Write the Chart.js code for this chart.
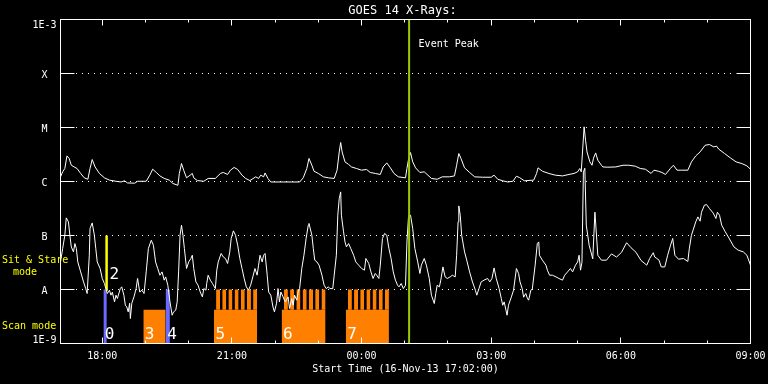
<!DOCTYPE html>
<html><head><meta charset="utf-8">
<script src="https://cdn.jsdelivr.net/npm/chart.js@4.4.1/dist/chart.umd.min.js"></script>
<style>html,body{margin:0;padding:0;background:#000;overflow:hidden}</style>
</head><body>
<canvas id="c" width="768" height="384"></canvas>
<script>
// ---------- data ----------
const startTime = '17:02';
const endTime = '09:00';
const titleText = 'GOES 14 X-Rays:';
const xAxisTitle = 'Start Time (16-Nov-13 17:02:00)';

const yTickValues = [1e-9, 1e-8, 1e-7, 1e-6, 1e-5, 1e-4, 1e-3];
const yTickLabels = ['1E-9', 'A', 'B', 'C', 'M', 'X', '1E-3'];
const xTickTimes = ['18:00','19:00','20:00','21:00','22:00','23:00','00:00','01:00','02:00','03:00','04:00','05:00','06:00','07:00','08:00','09:00'];
const xTickLabels = ['18:00','','','21:00','','','00:00','','','03:00','','','06:00','','','09:00'];

// long channel (upper curve)
const longTimes = ['17:02','17:05','17:08','17:11','17:14','17:17','17:21','17:25','17:30','17:35','17:40','17:43','17:46','17:50','17:56',
 '18:03','18:10','18:19','18:26','18:31','18:35','18:45','18:49','19:01','19:06','19:10','19:15','19:20','19:26','19:33','19:38','19:45','19:47','19:50','19:53','19:57',
 '20:02','20:05','20:07','20:12','20:21','20:27','20:37','20:44','20:48','20:54','20:58','21:03','21:08','21:14','21:19','21:25','21:33','21:37','21:40','21:44','21:46','21:50','21:54',
 '22:12','22:23','22:34','22:39','22:44','22:47','22:51','22:54','23:00','23:07','23:14','23:22','23:26','23:29','23:31','23:33','23:37','23:42','23:46','23:53',
 '00:00','00:07','00:12','00:19','00:26','00:30','00:35','00:40','00:45','00:51','01:01','01:03','01:05','01:08','01:11','01:15','01:21','01:27','01:31','01:37','01:45','01:52',
 '02:02','02:09','02:12','02:15','02:18','02:23','02:30','02:37','02:48','03:00','03:04','03:09','03:16','03:23','03:30','03:35','03:39','03:46','03:59',
 '04:03','04:05','04:11','04:20','04:29','04:39','04:48','04:55','05:00','05:03','05:05','05:09','05:11','05:13','05:17','05:20','05:22','05:25','05:28','05:33','05:35','05:42','05:53',
 '06:03','06:11','06:20','06:27','06:34','06:42','06:46','06:52','06:57','07:02','07:09','07:13','07:18','07:24','07:33','07:38','07:44','07:50','07:57',
 '08:03','08:09','08:13','08:16','08:24','08:32','08:40','08:48','08:55','09:00'];
const longFlux = [1.22e-6,1.51e-6,1.74e-6,2.98e-6,2.67e-6,2.0e-6,1.86e-6,1.74e-6,1.41e-6,1.17e-6,1.10e-6,1.74e-6,2.55e-6,1.86e-6,1.41e-6,
 1.17e-6,1.06e-6,1.01e-6,9.8e-7,1.03e-6,9.4e-7,9.3e-7,1.01e-6,1.01e-6,1.31e-6,1.69e-6,1.47e-6,1.27e-6,1.14e-6,1.06e-6,9.2e-7,8.5e-7,1.41e-6,2.15e-6,1.62e-6,1.17e-6,
 1.31e-6,1.41e-6,1.17e-6,1.04e-6,1.01e-6,1.14e-6,1.14e-6,1.41e-6,1.47e-6,1.35e-6,1.62e-6,1.82e-6,1.67e-6,1.31e-6,1.14e-6,1.04e-6,1.22e-6,1.14e-6,1.31e-6,1.22e-6,1.44e-6,1.14e-6,9.8e-7,
 9.8e-7,9.8e-7,9.8e-7,1.17e-6,1.74e-6,2.67e-6,2.0e-6,1.55e-6,1.41e-6,1.22e-6,1.17e-6,1.14e-6,1.62e-6,3.53e-6,5.27e-6,3.53e-6,2.31e-6,2.07e-6,1.86e-6,1.74e-6,
 1.62e-6,1.67e-6,1.47e-6,1.41e-6,1.35e-6,1.86e-6,2.21e-6,1.79e-6,1.41e-6,1.22e-6,1.17e-6,1.74e-6,2.48e-6,3.44e-6,2.31e-6,1.79e-6,1.47e-6,1.51e-6,1.35e-6,1.14e-6,1.10e-6,1.22e-6,
 1.22e-6,1.27e-6,2.0e-6,3.30e-6,2.67e-6,1.79e-6,1.47e-6,1.22e-6,1.20e-6,1.20e-6,1.31e-6,1.10e-6,1.03e-6,9.8e-7,1.01e-6,1.25e-6,1.19e-6,1.03e-6,1.06e-6,
 1.41e-6,1.79e-6,1.55e-6,1.41e-6,1.31e-6,1.27e-6,1.35e-6,1.41e-6,1.51e-6,1.74e-6,1.51e-6,1.03e-5,5.8e-6,3.53e-6,2.31e-6,2.0e-6,2.70e-6,3.38e-6,2.48e-6,2.0e-6,1.86e-6,1.84e-6,1.86e-6,
 2.0e-6,2.0e-6,1.92e-6,1.74e-6,1.69e-6,1.41e-6,1.62e-6,1.55e-6,1.47e-6,1.35e-6,1.76e-6,2.0e-6,1.62e-6,1.62e-6,1.62e-6,2.31e-6,2.98e-6,3.53e-6,4.69e-6,
 4.84e-6,4.38e-6,4.51e-6,3.96e-6,3.30e-6,2.74e-6,2.31e-6,2.15e-6,1.95e-6,1.69e-6];

// short channel (lower curve)
const shortTimes = ['17:02','17:05','17:08','17:10','17:13','17:15','17:17','17:20','17:22','17:24','17:26','17:30','17:34','17:37','17:39','17:42','17:43','17:46','17:49','17:51','17:53','17:57',
 '18:00','18:03','18:05','18:07','18:10','18:12','18:14','18:17','18:19','18:21','18:25','18:27','18:30','18:32','18:34','18:36','18:38','18:39','18:41','18:44','18:47','18:49','18:52','18:55','18:58',
 '19:01','19:04','19:08','19:11','19:14','19:17','19:20','19:23','19:26','19:28','19:31','19:34','19:37','19:39','19:42','19:44','19:46','19:48','19:50','19:52','19:54','19:57',
 '20:00','20:03','20:05','20:07','20:10','20:13','20:16','20:19','20:21','20:24','20:25','20:27','20:30','20:33','20:37','20:39','20:41','20:45','20:48','20:51','20:54','20:57','20:59',
 '21:02','21:05','21:08','21:11','21:14','21:17','21:20','21:23','21:26','21:29','21:32','21:35','21:37','21:39','21:42','21:44','21:46','21:49','21:51','21:54','21:57','21:59',
 '22:02','22:04','22:06','22:08','22:11','22:14','22:18','22:20','22:23','22:25','22:27','22:30','22:32','22:34','22:37','22:40','22:43','22:46','22:47','22:51','22:53','22:55','22:58',
 '23:01','23:05','23:08','23:11','23:14','23:16','23:20','23:22','23:25','23:27','23:29','23:31','23:32','23:35','23:37','23:39','23:42','23:45','23:49','23:52','23:56',
 '00:00','00:04','00:06','00:10','00:13','00:16','00:19','00:21','00:24','00:26','00:29','00:32','00:35','00:38','00:41','00:44','00:47','00:50','00:52','00:55','00:58',
 '01:01','01:03','01:05','01:06','01:08','01:11','01:14','01:18','01:21','01:23','01:27','01:30','01:34','01:37','01:41','01:43','01:45','01:48','01:50','01:53','01:56','01:59',
 '02:03','02:06','02:10','02:12','02:14','02:15','02:17','02:19','02:23','02:26','02:30','02:34','02:38','02:40','02:43','02:46','02:50','02:55','02:58',
 '03:01','03:04','03:07','03:11','03:14','03:16','03:18','03:22','03:24','03:28','03:31','03:35','03:38','03:40','03:43','03:45','03:48','03:50','03:52','03:55','03:57',
 '04:01','04:04','04:06','04:07','04:11','04:16','04:18','04:21','04:25','04:30','04:34','04:39','04:42','04:46','04:50','04:53','04:57',
 '05:00','05:02','05:04','05:06','05:08','05:10','05:12','05:16','05:21','05:24','05:28','05:33','05:40','05:47','05:54',
 '06:01','06:08','06:14','06:21','06:28','06:36','06:40','06:45','06:47','06:50','06:53','06:56',
 '07:01','07:05','07:09','07:12','07:15','07:20','07:27','07:33','07:35','07:38','07:44','07:47','07:50','07:52','07:56','07:59',
 '08:03','08:08','08:12','08:14','08:17','08:20','08:25','08:30','08:37','08:43','08:50','08:55','09:00'];
const shortFlux = [3.24e-8,5.74e-8,1.01e-7,2.12e-7,1.79e-7,1.01e-7,6.15e-8,4.97e-8,7.10e-8,5.74e-8,3.24e-8,2.12e-8,1.38e-8,1.04e-8,8.43e-9,4.31e-8,1.35e-7,1.71e-7,1.01e-7,5.74e-8,3.24e-8,2.45e-8,
 1.60e-8,1.29e-8,1.04e-8,8.43e-9,9.7e-9,7.85e-9,8.9e-9,5.9e-9,7.85e-9,6.81e-9,1.04e-8,1.12e-8,7.85e-9,5.11e-9,4.76e-9,3.85e-9,5.57e-9,2.9e-9,5.57e-9,7.3e-9,1.04e-8,1.60e-8,9.0e-9,9.7e-9,8.43e-9,
 2.12e-8,5.74e-8,8.17e-8,6.61e-8,3.24e-8,2.45e-8,1.84e-8,2.12e-8,1.49e-8,1.71e-8,1.20e-8,5.9e-9,3.34e-9,3.85e-9,4.14e-9,5.9e-9,2.12e-8,1.01e-7,1.55e-7,1.01e-7,5.74e-8,2.45e-8,
 3.24e-8,3.75e-8,4.31e-8,2.45e-8,1.38e-8,1.20e-8,9.0e-9,7.3e-9,1.04e-8,9.7e-9,1.29e-8,1.84e-8,1.49e-8,1.29e-8,1.04e-8,2.28e-8,3.24e-8,4.64e-8,4.01e-8,3.75e-8,3.03e-8,4.97e-8,8.8e-8,
 1.22e-7,1.01e-7,6.61e-8,3.75e-8,2.45e-8,1.60e-8,1.12e-8,9.7e-9,1.20e-8,1.71e-8,2.45e-8,1.84e-8,2.82e-8,4.31e-8,3.24e-8,4.31e-8,4.64e-8,1.84e-8,9.0e-9,7.85e-9,4.76e-9,3.85e-9,
 5.57e-9,1.04e-8,5.9e-9,9.0e-9,7.3e-9,5.9e-9,7.3e-9,4.45e-9,6.81e-9,5.11e-9,7.85e-9,6.34e-9,9.0e-9,1.04e-8,2.45e-8,4.31e-8,8.8e-8,1.55e-7,1.67e-7,1.01e-7,5.74e-8,3.49e-8,3.24e-8,
 2.82e-8,1.84e-8,1.20e-8,1.04e-8,1.12e-8,1.04e-8,1.04e-8,1.84e-8,4.31e-8,2.38e-7,4.84e-7,6.42e-7,2.38e-7,1.17e-7,7.6e-8,6.15e-8,7.10e-8,5.74e-8,4.31e-8,3.24e-8,2.82e-8,
 2.45e-8,2.28e-8,3.75e-8,3.03e-8,2.12e-8,1.60e-8,1.98e-8,1.84e-8,1.60e-8,2.82e-8,8.8e-8,1.09e-7,1.01e-7,5.74e-8,3.75e-8,2.12e-8,1.49e-8,1.20e-8,1.12e-8,1.29e-8,1.04e-8,
 1.20e-8,7.6e-8,2.07e-7,2.38e-7,2.38e-7,1.35e-7,5.74e-8,3.24e-8,1.98e-8,2.82e-8,3.75e-8,2.82e-8,1.60e-8,7.85e-9,5.5e-9,8.43e-9,1.20e-8,1.12e-8,1.49e-8,2.62e-8,1.71e-8,1.60e-8,
 1.71e-8,1.84e-8,1.71e-8,4.31e-8,1.79e-7,3.53e-7,2.38e-7,1.01e-7,4.97e-8,3.49e-8,2.12e-8,1.38e-8,9.7e-9,7.85e-9,1.04e-8,1.38e-8,1.49e-8,1.60e-8,1.38e-8,
 1.60e-8,2.51e-8,1.60e-8,1.04e-8,6.81e-9,5.11e-9,5.9e-9,3.34e-9,5.11e-9,7.3e-9,9.7e-9,2.45e-8,1.98e-8,1.38e-8,1.04e-8,7.2e-9,8.43e-9,7.0e-9,6.34e-9,9.7e-9,1.01e-8,
 2.82e-8,7.10e-8,7.6e-8,4.31e-8,3.49e-8,2.82e-8,2.28e-8,1.84e-8,1.84e-8,1.71e-8,1.60e-8,1.49e-8,1.84e-8,2.12e-8,2.45e-8,2.12e-8,2.82e-8,
 3.24e-8,4.31e-8,2.28e-8,3.2e-8,1.49e-6,1.76e-6,1.55e-7,6.61e-8,3.69e-8,2.7e-7,4.31e-8,3.49e-8,3.49e-8,4.56e-8,3.99e-8,
 4.89e-8,7.35e-8,5.97e-8,4.89e-8,3.45e-8,2.82e-8,3.75e-8,4.8e-8,4.0e-8,3.75e-8,3.49e-8,2.62e-8,
 2.62e-8,4.31e-8,6.61e-8,8.8e-8,4.31e-8,3.64e-8,3.75e-8,3.3e-8,5.65e-8,1.01e-7,1.79e-7,2.21e-7,1.84e-7,2.7e-7,3.64e-7,3.74e-7,
 3.16e-7,2.62e-7,2.07e-7,2.7e-7,2.38e-7,1.55e-7,1.17e-7,9.0e-8,6.15e-8,5.34e-8,4.97e-8,4.31e-8,2.82e-8];

const eventPeakTime = '01:06';
const eventPeakLabel = 'Event Peak';

// instantaneous observing-mode markers (bars)
const barModes = ['0', '2', '4'];
const barTimes = ['18:04', '18:06', '19:31'];
const barLow   = [1e-9, 1e-8, 1e-9];
const barHigh  = [1e-8, 1e-7, 1e-8];

// scan-mode blocks
const scanModes = ['3', '5', '6', '7'];
const scanStart = ['18:57', '20:35', '22:09', '23:38'];
const scanEnd   = ['19:28', '21:35', '23:10', '00:38'];
const scanSteps = [0, 7, 7, 7];
const scanBase = 4.2e-9;
const scanTop  = 1e-8;

// ---------- helpers / styles ----------
function hrs(s) { const p = s.split(':').map(Number); let v = p[0] + p[1] / 60; if (v < 12) v += 24; return v; }
const FONT = '"DejaVu Sans Mono", "Liberation Mono", monospace';
const WHITE = '#ffffff', YELLOW = '#ffff00', ORANGE = '#ff8000', BLUE = '#6a6aff', GREEN = '#99cc00';
const barColors = [BLUE, YELLOW, BLUE];
const barWidths = [3, 2.5, 4];
const EPS = 1e-5;
const NOBORDER = 'rgba(0,0,0,0)';

const datasets = [];
datasets.push({ data: [{x: hrs(eventPeakTime), y: yTickValues[0]}, {x: hrs(eventPeakTime) + EPS, y: yTickValues[6]}],
  borderColor: GREEN, borderWidth: 2, pointRadius: 0, fill: false, order: 0 });
datasets.push({ data: longTimes.map((t, i) => ({x: hrs(t), y: longFlux[i]})),
  borderColor: WHITE, borderWidth: 1, pointRadius: 0, tension: 0, fill: false, order: 1 });
datasets.push({ data: shortTimes.map((t, i) => ({x: hrs(t), y: shortFlux[i]})),
  borderColor: WHITE, borderWidth: 1, pointRadius: 0, tension: 0, fill: false, order: 1 });
barTimes.forEach((t, i) => {
  datasets.push({ data: [{x: hrs(t), y: barLow[i]}, {x: hrs(t) + EPS, y: barHigh[i]}],
    borderColor: barColors[i], borderWidth: barWidths[i], borderCapStyle: 'butt', pointRadius: 0, fill: false, order: 2 });
});
scanStart.forEach((s, i) => {
  const a = hrs(s), b = hrs(scanEnd[i]), n = scanSteps[i];
  // solid lower part of the block, filled down to the axis floor
  datasets.push({ data: [{x: a, y: scanBase}, {x: b, y: scanBase}], borderColor: NOBORDER, borderWidth: 1,
    backgroundColor: ORANGE, pointRadius: 0, fill: 'start', order: 3 });
  // scan steps: one tooth per step, filled between scanBase and scanTop
  const step = n ? (b - a) / n : 0;
  for (let k = 0; k < n; k++) {
    const t0 = a + step * k + step * 0.35, t1 = a + step * (k + 1);
    datasets.push({ data: [{x: t0, y: scanTop}, {x: t1, y: scanTop}], borderColor: NOBORDER, borderWidth: 1,
      backgroundColor: ORANGE, pointRadius: 0, fill: {value: scanBase}, order: 3 });
  }
});

function textAt(ctx, str, x, baseline, size, color, align) {
  ctx.font = size + 'px ' + FONT; ctx.fillStyle = color; ctx.textAlign = align || 'left'; ctx.textBaseline = 'alphabetic';
  ctx.fillText(str, x, baseline);
}

const overlay = {
  id: 'overlay',
  beforeDraw(chart) {
    const c = chart.ctx; c.save(); c.fillStyle = '#000'; c.fillRect(0, 0, chart.width, chart.height); c.restore();
  },
  beforeDatasetsDraw(chart) {
    const c = chart.ctx, a = chart.chartArea, ys = chart.scales.y;
    c.save(); c.strokeStyle = WHITE; c.lineWidth = 1;
    yTickValues.forEach((v, i) => {
      if (i === 0 || i === yTickValues.length - 1) return;
      const y = Math.round(ys.getPixelForValue(v) - 0.5) + 0.5;
      c.setLineDash([]);
      c.beginPath(); c.moveTo(a.left, y); c.lineTo(a.left + 14, y); c.moveTo(a.right - 14, y); c.lineTo(a.right, y); c.stroke();
      c.setLineDash([1, 5]);
      c.beginPath(); c.moveTo(a.left + 15.5, y); c.lineTo(a.right - 15, y); c.stroke();
    });
    c.restore();
  },
  afterDraw(chart) {
    const c = chart.ctx, a = chart.chartArea, xs = chart.scales.x, ys = chart.scales.y;
    c.save(); c.strokeStyle = WHITE; c.lineWidth = 1; c.setLineDash([]);
    c.strokeRect(a.left, a.top, a.right - a.left, a.bottom - a.top);
    xTickTimes.forEach((t, i) => {
      const x = Math.round(xs.getPixelForValue(hrs(t)) - 0.5) + 0.5;
      const len = xTickLabels[i] ? 6 : 3;
      c.beginPath(); c.moveTo(x, a.bottom); c.lineTo(x, a.bottom - len); c.moveTo(x, a.top); c.lineTo(x, a.top + len); c.stroke();
      if (xTickLabels[i]) textAt(c, xTickLabels[i], xs.getPixelForValue(hrs(t)), a.bottom + 15.5, 10, WHITE, 'center');
    });
    yTickValues.forEach((v, i) => {
      let b = ys.getPixelForValue(v) + 4;
      b = Math.max(a.top + 8, Math.min(a.bottom - 0.5, b));
      textAt(c, yTickLabels[i], a.left - 16, b, 10, WHITE, 'center');
    });
    textAt(c, titleText, (a.left + a.right) / 2 - 3, 14, 12, WHITE, 'center');
    textAt(c, xAxisTitle, (a.left + a.right) / 2, 372, 10, WHITE, 'center');
    textAt(c, eventPeakLabel, xs.getPixelForValue(hrs(eventPeakTime)) + 9.5, 46.7, 10, WHITE, 'left');
    textAt(c, 'Sit & Stare', 2, 263, 10, YELLOW, 'left');
    textAt(c, 'mode', 13, 274.7, 10, YELLOW, 'left');
    textAt(c, 'Scan mode', 2, 328.7, 10, YELLOW, 'left');
    barModes.forEach((m, i) => {
      const x = xs.getPixelForValue(hrs(barTimes[i]));
      if (barLow[i] > yTickValues[0]) textAt(c, m, x + 3, ys.getPixelForValue(barLow[i]) - 11, 16, WHITE, 'left');
      else textAt(c, m, x - 0.5, a.bottom - 4.5, 16, WHITE, 'left');
    });
    scanModes.forEach((m, i) => {
      textAt(c, m, xs.getPixelForValue(hrs(scanStart[i])) + 1.5, a.bottom - 4.5, 16, WHITE, 'left');
    });
    c.restore();
  }
};

new Chart(document.getElementById('c'), {
  type: 'line',
  data: { datasets },
  options: {
    responsive: false, animation: false, events: [],
    layout: { padding: { left: 60.5, top: 19.5, right: 17.5, bottom: 40.5 } },
    scales: {
      x: { type: 'linear', min: hrs(startTime), max: hrs(endTime), display: false },
      y: { type: 'logarithmic', min: yTickValues[0], max: yTickValues[yTickValues.length - 1], display: false }
    },
    plugins: { legend: { display: false }, tooltip: { enabled: false }, title: { display: false } },
    elements: { line: { borderJoinStyle: 'miter' } }
  },
  plugins: [overlay]
});
</script>
</body></html>
